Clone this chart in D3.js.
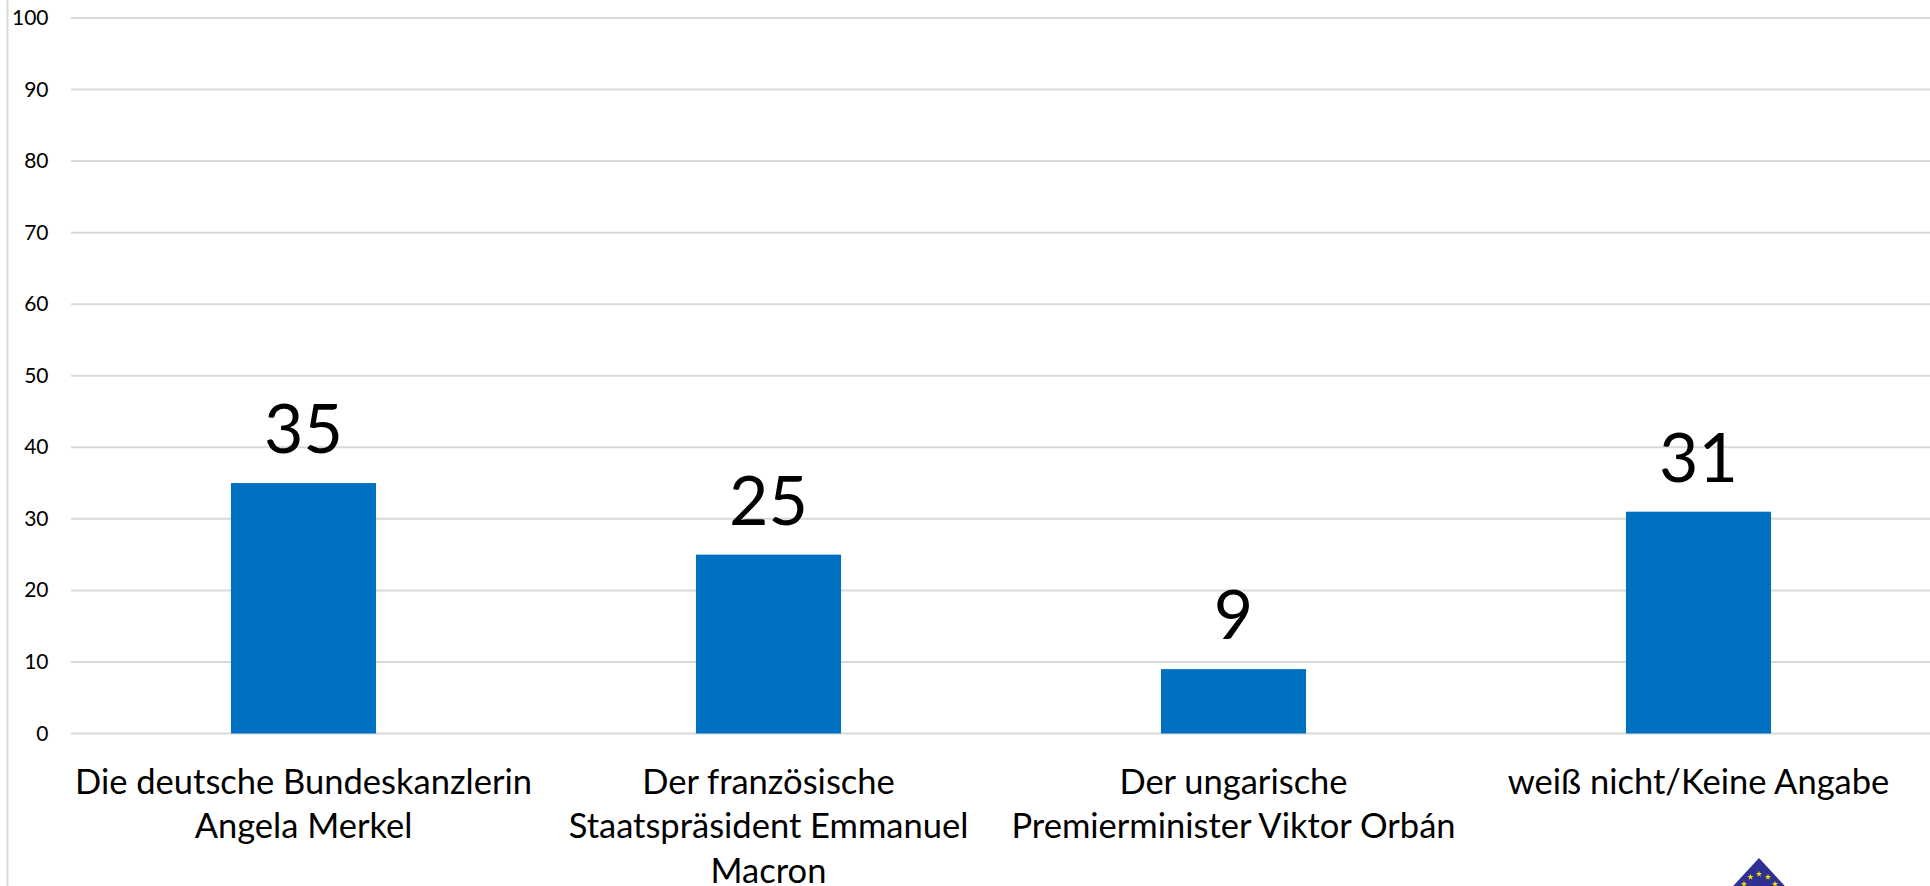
<!DOCTYPE html>
<html><head><meta charset="utf-8">
<script src="https://cdn.jsdelivr.net/npm/d3@7"></script>
<style>html,body{margin:0;padding:0;background:#fff;overflow:hidden}svg{display:block}text{font-family:Lato,"Open Sans",sans-serif;fill:#000}</style>
</head><body><div id="chart"></div>
<script>
const categories = [
  ["Die deutsche Bundeskanzlerin","Angela Merkel"],
  ["Der französische","Staatspräsident Emmanuel","Macron"],
  ["Der ungarische","Premierminister Viktor Orbán"],
  ["weiß nicht/Keine Angabe"]
];
const values = [35,25,9,31];
const yTicks = [0,10,20,30,40,50,60,70,80,90,100];
const W=1930,H=886;
const svg=d3.select("#chart").append("svg").attr("width",W).attr("height",H);
const x=d3.scaleBand().domain(d3.range(categories.length)).range([71,1931]).paddingInner(0.688).paddingOuter(0.344);
const y=d3.scaleLinear().domain([0,100]).range([733.5,18]);
svg.append("line").attr("x1",7.5).attr("x2",7.5).attr("y1",0).attr("y2",H).attr("stroke","#d9d9d9").attr("stroke-width",2);
svg.append("g").selectAll("line").data(yTicks).join("line")
  .attr("x1",71).attr("x2",W).attr("y1",d=>y(d)).attr("y2",d=>y(d)).attr("stroke","#d9d9d9").attr("stroke-width",2);
svg.append("g").selectAll("text").data(yTicks).join("text")
  .attr("x",48.5).attr("y",d=>y(d)+7).attr("text-anchor","end").attr("font-size",21).text(d=>d);
svg.append("g").selectAll("rect").data(values).join("rect")
  .attr("x",(d,i)=>x(i)).attr("width",x.bandwidth()).attr("y",d=>y(d)).attr("height",d=>y(0)-y(d)).attr("fill","#0070c0");
svg.append("g").selectAll("text").data(values).join("text")
  .attr("x",(d,i)=>x(i)+x.bandwidth()/2).attr("y",d=>y(d)-30).attr("text-anchor","middle").attr("font-size",68).text(d=>d);
const cg=svg.append("g").selectAll("text").data(categories).join("text")
  .attr("text-anchor","middle").attr("font-size",34.5);
cg.each(function(lines,i){
  d3.select(this).selectAll("tspan").data(lines).join("tspan")
    .attr("x",x(i)+x.bandwidth()/2).attr("y",(l,j)=>794+j*44.3).text(l=>l);
});
// emblem (clipped by the bottom of the picture)
const logo=svg.append("g").attr("transform","translate(1759,858)");
logo.append("path").attr("d","M0,0L60,65L-60,65Z").attr("fill","#2e3192");
const stars=[[0,16],[-8.5,19],[9,19],[-15,26],[16,26]];
logo.selectAll(".star").data(stars).join("path").attr("class","star")
  .attr("transform",d=>`translate(${d[0]},${d[1]})`)
  .attr("d",d3.symbol(d3.symbolStar,12)).attr("fill","#ffe000");
</script></body></html>
